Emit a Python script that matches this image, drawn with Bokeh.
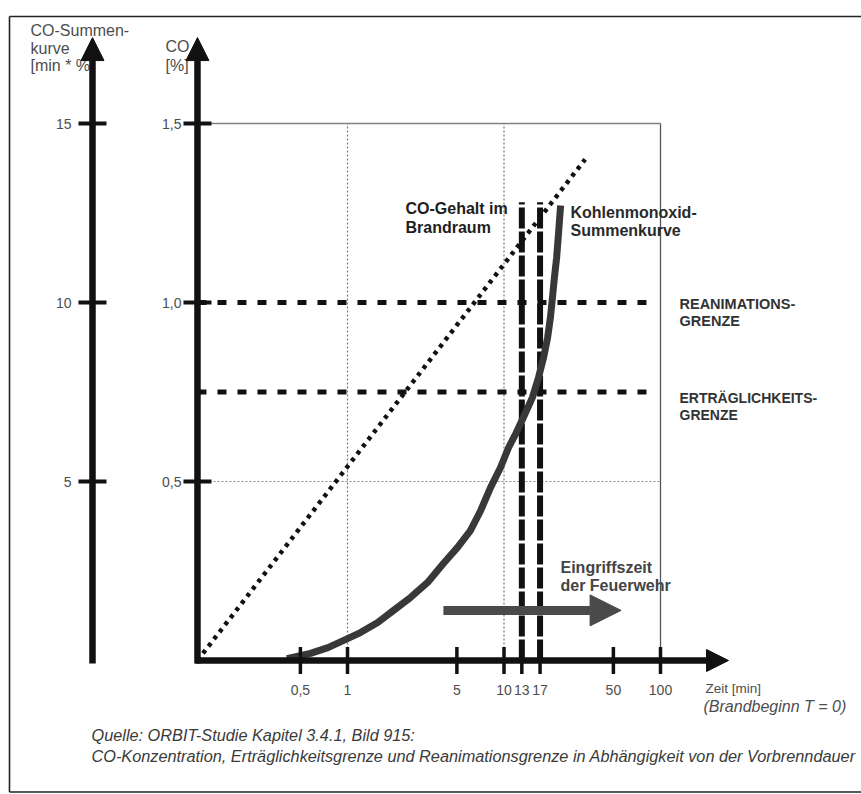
import numpy as np
from bokeh.plotting import figure
from bokeh.models import Range1d, Arrow, NormalHead
from bokeh.core.properties import value
from bokeh.embed import file_html
from bokeh.resources import INLINE

# ---------------- data ----------------
time_ticks = [0.5, 1, 5, 10, 13, 17, 50, 100]
time_tick_labels = ["0,5", "1", "5", "10", "13", "17", "50", "100"]
co_ticks = [0.5, 1.0, 1.5]
co_tick_labels = ["0,5", "1,0", "1,5"]
sum_ticks = [5, 10, 15]
sum_tick_labels = ["5", "10", "15"]

grid_times = [1, 10]
frame_time = 100
limit_reanimation = 1.0
limit_ertraeglich = 0.75
limit_end_time = 93
marked_times = [13, 17]
marked_top = 1.28

# CO content in the fire room (dotted straight line), CO in %
co_content_t = [0.11, 33]
co_content_v = [0.0, 1.4]

# CO sum curve, in min * %
sum_curve_t = [0.41, 0.58, 0.75, 1.0, 1.21, 1.56, 1.97, 2.53, 3.25, 4.1, 5.05, 6.1, 7.1, 8.2,
               9.5, 10.7, 11.9, 13.3, 15.2, 16.6, 17.9, 19.0, 19.8, 20.4, 21.0, 21.7, 22.3, 23.0]
sum_curve_v = [0.05, 0.2, 0.36, 0.61, 0.78, 1.06, 1.4, 1.76, 2.18, 2.71, 3.16, 3.63, 4.19, 4.83,
               5.39, 5.95, 6.34, 6.79, 7.35, 7.9, 8.46, 9.02, 9.58, 10.14, 10.7, 11.26, 11.93, 12.71]

# intervention time of the fire brigade (arrow)
intervention_t = [4.1, 56]
intervention_v = 0.14

t_origin = 0.11
axis_top = 1.74

# ---------------- layout constants ----------------
W, H = 861, 794
DEC = 156.5      # px per decade on the time axis
X1 = 347         # px of t = 1
Y_PER = 358      # px per 1 % CO
Y0 = 660         # px (from top) of CO = 0


def tx(px):
    return 10 ** ((px - X1) / DEC)


def ty(py):
    return (Y0 - py) / Y_PER


FONT = value("Liberation Sans")
INK = "#111111"
GREY_TXT = "#4d4d4d"

p = figure(width=W, height=H, x_axis_type="log", x_axis_location=None, y_axis_location=None,
           x_range=Range1d(10 ** (-X1 / DEC), 10 ** ((W - X1) / DEC)),
           y_range=Range1d((Y0 - H) / Y_PER, Y0 / Y_PER),
           output_backend="svg", toolbar_location=None, min_border=0)
p.extra_y_ranges = {"sum": Range1d(10 * (Y0 - H) / Y_PER, 10 * Y0 / Y_PER)}
p.outline_line_color = None
p.background_fill_color = "white"
p.border_fill_color = "white"
p.xgrid.grid_line_color = None
p.ygrid.grid_line_color = None
p.grid.visible = False

# frame border of the scanned figure
p.segment(x0=[tx(9), tx(9), tx(9)], y0=[ty(16), ty(16), ty(791.5)],
          x1=[tx(9), tx(861), tx(861)], y1=[ty(791.5), ty(16), ty(791.5)],
          line_color="#222222", line_width=1.6)

# grid
p.segment(x0=grid_times, y0=[0] * len(grid_times), x1=grid_times, y1=[co_ticks[-1]] * len(grid_times),
          line_color="#7a7a7a", line_width=1.2, line_dash="2 2")
p.segment(x0=[frame_time], y0=[0], x1=[frame_time], y1=[co_ticks[-1]], line_color="#555555", line_width=1.3)
p.segment(x0=[t_origin], y0=[co_ticks[-1]], x1=[frame_time], y1=[co_ticks[-1]],
          line_color="#808080", line_width=1.6)
p.segment(x0=[t_origin], y0=[co_ticks[0]], x1=[frame_time], y1=[co_ticks[0]],
          line_color="#8a8a8a", line_width=1.2, line_dash="2 2")

# limit lines
p.segment(x0=[t_origin, t_origin], y0=[limit_reanimation, limit_ertraeglich],
          x1=[limit_end_time, limit_end_time], y1=[limit_reanimation, limit_ertraeglich],
          line_color=INK, line_width=5, line_dash="9 11")

# marked intervention times 13 / 17 min
p.segment(x0=marked_times, y0=[0, 0], x1=marked_times, y1=[marked_top, marked_top],
          line_color=INK, line_width=6, line_dash="21 3")

# CO content (dotted diagonal)
p.line(co_content_t, co_content_v, line_color=INK, line_width=4.5, line_dash="4 5")

# CO sum curve
p.line(sum_curve_t, sum_curve_v, y_range_name="sum", line_color="#383838", line_width=7,
       line_join="round")

# intervention arrow
p.add_layout(Arrow(end=NormalHead(size=31, fill_color="#4a4a4a", line_color="#4a4a4a", line_width=1),
                   x_start=intervention_t[0], y_start=intervention_v,
                   x_end=intervention_t[1], y_end=intervention_v,
                   line_color="#4a4a4a", line_width=9))

# axes with arrow heads
sum_axis_x = tx(92)
for xa in (sum_axis_x, t_origin):
    p.add_layout(Arrow(end=NormalHead(size=23, fill_color=INK, line_color=INK, line_width=1),
                       x_start=xa, y_start=ty(663), x_end=xa, y_end=axis_top,
                       line_color=INK, line_width=6.5))
p.add_layout(Arrow(end=NormalHead(size=22, fill_color=INK, line_color=INK, line_width=1),
                   x_start=tx(195), y_start=0, x_end=tx(728), y_end=0,
                   line_color=INK, line_width=6.5))

# tick marks
p.scatter(x=[t_origin] * len(co_ticks), y=co_ticks, marker="dash", size=28, line_width=4, line_color=INK)
p.scatter(x=[sum_axis_x] * len(sum_ticks), y=sum_ticks, y_range_name="sum", marker="dash", size=28,
          line_width=4, line_color=INK)
p.scatter(x=time_ticks, y=[0] * len(time_ticks), marker="dash", angle=np.pi / 2, size=27,
          line_width=3.5, line_color=INK)

# tick labels
p.text(x=[t_origin] * len(co_ticks), y=co_ticks, text=co_tick_labels, x_offset=-16,
       text_align="right", text_baseline="middle", text_font=FONT, text_font_size="14px",
       text_color=GREY_TXT)
p.text(x=[sum_axis_x] * len(sum_ticks), y=sum_ticks, y_range_name="sum", text=sum_tick_labels,
       x_offset=-21, text_align="right", text_baseline="middle", text_font=FONT,
       text_font_size="14px", text_color=GREY_TXT)
p.text(x=time_ticks, y=[0] * len(time_ticks), text=time_tick_labels, y_offset=29,
       text_align="center", text_baseline="middle", text_font=FONT, text_font_size="14px",
       text_color=GREY_TXT)


def label(px, pys, lines, size, style="normal", color=GREY_TXT):
    p.text(x=[tx(px)] * len(lines), y=[ty(v) for v in pys], text=lines, text_align="left",
           text_baseline="middle", text_font=FONT, text_font_size=size, text_font_style=style,
           text_color=color)


# axis titles
label(30, [30, 48, 65], ["CO-Summen-", "kurve", "[min * %]"], "16px")
label(165, [46, 65], ["CO", "[%]"], "16px")
label(705, [688], ["Zeit [min]"], "13.5px")
label(703, [706], ["(Brandbeginn T = 0)"], "16px", "italic")

# annotations
label(405, [208, 227], ["CO-Gehalt im", "Brandraum"], "16px", "bold", "#1e1e1e")
label(570, [212, 230], ["Kohlenmonoxid-", "Summenkurve"], "16px", "bold", "#2a2a2a")
label(679, [303, 320], ["REANIMATIONS-", "GRENZE"], "14.5px", "bold", "#333333")
label(679, [397, 414], ["ERTRÄGLICHKEITS-", "GRENZE"], "14px", "bold", "#333333")
label(560, [567, 585], ["Eingriffszeit", "der Feuerwehr"], "16px", "bold", "#444444")

# caption
label(91, [734, 755], ["Quelle: ORBIT-Studie Kapitel 3.4.1, Bild 915:",
                       "CO-Konzentration, Erträglichkeitsgrenze und Reanimationsgrenze in Abhängigkeit von der Vorbrenndauer"],
      "16.3px", "italic", "#3a3a3a")

open("out.html", "w").write(file_html(p, INLINE))
